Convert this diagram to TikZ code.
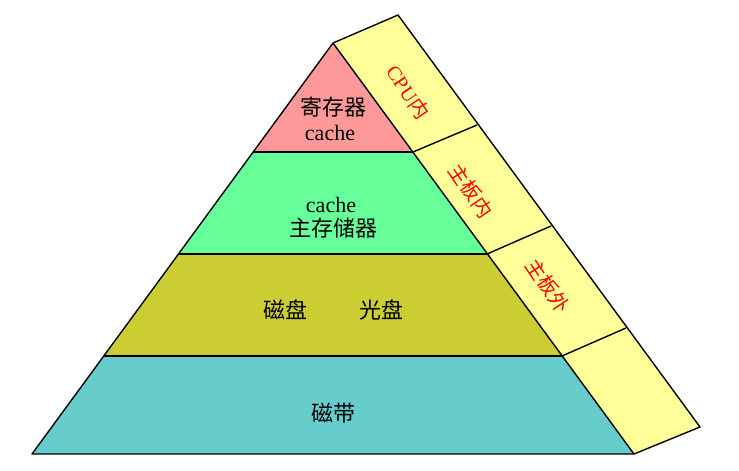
\documentclass[tikz,border=0pt]{standalone}
\usepackage{fontspec}
\setmainfont{Liberation Serif}
\newfontfamily\cjk{Noto Sans CJK SC}
\definecolor{cRed}{HTML}{FF9999}
\definecolor{cGreen}{HTML}{66FF99}
\definecolor{cOlive}{HTML}{CCCC33}
\definecolor{cTeal}{HTML}{66CCCC}
\definecolor{cYellow}{HTML}{FFFF99}
\begin{document}
\begin{tikzpicture}[x=1pt,y=-1pt,line join=round,
  band/.style={draw=black,line width=1.4pt},
  lbl/.style={font=\fontsize{22}{26}\selectfont,align=center,inner sep=0pt},
  side/.style={font=\fontsize{20}{24}\selectfont,text=red,rotate=-56,inner sep=0pt}]
\useasboundingbox (0,0) rectangle (739,471);
% pyramid points
\coordinate (A) at (333,43);
\coordinate (L1) at (253,152); \coordinate (R1) at (413,152);
\coordinate (L2) at (179,254); \coordinate (R2) at (487,254);
\coordinate (L3) at (104,356); \coordinate (R3) at (562,356);
\coordinate (L4) at (32,454);  \coordinate (R4) at (634,454);
% strip outer points
\coordinate (O0) at (398,15);
\coordinate (O1) at (477,125);
\coordinate (O2) at (551,226);
\coordinate (O3) at (626,328);
\coordinate (O4) at (700,427);
% bands
\fill[cRed] (A) -- (R1) -- (L1) -- cycle;
\fill[cGreen] (L1) -- (R1) -- (R2) -- (L2) -- cycle;
\fill[cOlive] (L2) -- (R2) -- (R3) -- (L3) -- cycle;
\fill[cTeal] (L3) -- (R3) -- (R4) -- (L4) -- cycle;
\fill[cYellow] (A) -- (O0) -- (O4) -- (R4) -- cycle;
\draw[band] (A) -- (L4) -- (R4) -- (A);
\draw[band] (L1) -- (R1) (L2) -- (R2) (L3) -- (R3);
\draw[band] (A) -- (O0) -- (O4) -- (R4);
\draw[band] (R1) -- (O1) (R2) -- (O2) (R3) -- (O3);
% texts
\node[lbl] (t1) at (333,107) {\cjk 寄存器};
\node[lbl] (t2) at (330,133) {cache};
\node[lbl] (t3) at (331,205) {cache};
\node[lbl] (t4) at (333,228) {\cjk 主存储器};
\node[lbl] (t5) at (285,310) {\cjk 磁盘};
\node[lbl] (t6) at (381,310) {\cjk 光盘};
\node[lbl] (t7) at (333,413) {\cjk 磁带};
\node[side] (s1) at (408,92) {CPU{\cjk 内}};
\node[side] (s2) at (471,191) {\cjk 主板内};
\node[side] (s3) at (548,286) {\cjk 主板外};
\end{tikzpicture}
\end{document}
